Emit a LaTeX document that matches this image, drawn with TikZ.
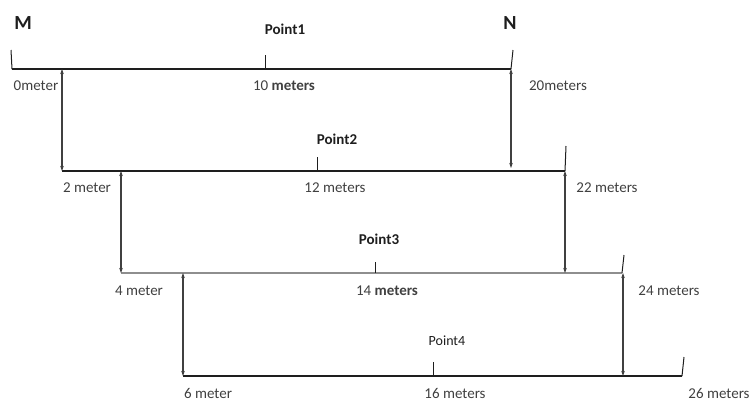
\documentclass[tikz,border=0pt]{standalone}
\usepackage{fontspec}
\setmainfont{Carlito}
\usetikzlibrary{arrows.meta}
\definecolor{lbl}{HTML}{404040}
\definecolor{ln}{HTML}{1E1E1E}
\begin{document}
\begin{tikzpicture}[x=1pt,y=-1pt,
  baseline/.style={draw=ln,line width=1.1pt},
  tickmark/.style={draw=ln,line width=1pt},
  move/.style={draw=ln!85!white,line width=1.1pt,{Stealth[length=5pt,width=3.5pt]}-{Stealth[length=5pt,width=3.5pt]}},
  lab/.style={text=lbl,font=\fontsize{15}{17}\selectfont,inner sep=0pt,anchor=center},
  big/.style={text=ln,font=\fontsize{20}{23}\selectfont\bfseries,inner sep=0pt},
  ptlab/.style={text=ln,font=\fontsize{15}{17}\selectfont\bfseries,inner sep=0pt}]
\useasboundingbox (0,0) rectangle (754,405);
% line endpoints
\coordinate (L1a) at (12,69);  \coordinate (L1b) at (511,69);
\coordinate (L2a) at (62,171); \coordinate (L2b) at (565,171);
\coordinate (L3a) at (121,273);\coordinate (L3b) at (622,273);
\coordinate (L4a) at (183,376);\coordinate (L4b) at (682,376);
% tick tops
\coordinate (T1a) at (11,50);  \coordinate (T1m) at (265,55); \coordinate (T1mb) at (265,69); \coordinate (T1b) at (513,50);
\coordinate (T2m) at (317,157); \coordinate (T2mb) at (317,171); \coordinate (T2b) at (566,146);
\coordinate (T3m) at (375,262); \coordinate (T3mb) at (375,273); \coordinate (T3b) at (624,255);
\coordinate (T4m) at (433,362); \coordinate (T4mb) at (433,376); \coordinate (T4b) at (684,357);
% vertical arrow ends
\coordinate (V1t) at (62,69);   \coordinate (V1b) at (62,171);
\coordinate (V2t) at (121,171); \coordinate (V2b) at (121,273);
\coordinate (V3t) at (183,273); \coordinate (V3b) at (183,376);
\coordinate (W1t) at (511,69);  \coordinate (W1b) at (511,168);
\coordinate (W2t) at (565,171); \coordinate (W2b) at (565,273);
\coordinate (W3t) at (623,273); \coordinate (W3b) at (623,376);
% horizontal lines
\draw[baseline] (L1a) -- (L1b);
\draw[baseline] (L2a) -- (L2b);
\draw[baseline,draw=ln!50!white] (L3a) -- (L3b);
\draw[baseline] (L4a) -- (L4b);
% ticks
\draw[tickmark] (T1a) -- (L1a);
\draw[tickmark] (T1m) -- (T1mb);
\draw[tickmark] (T1b) -- (L1b);
\draw[tickmark] (T2m) -- (T2mb);
\draw[tickmark] (T2b) -- (L2b);
\draw[tickmark] (T3m) -- (T3mb);
\draw[tickmark] (T3b) -- (L3b);
\draw[tickmark] (T4m) -- (T4mb);
\draw[tickmark] (T4b) -- (L4b);
% moves
\draw[move] (V1t) -- (V1b);
\draw[move] (V2t) -- (V2b);
\draw[move] (V3t) -- (V3b);
\draw[move] (W1t) -- (W1b);
\draw[move] (W2t) -- (W2b);
\draw[move] (W3t) -- (W3b);
% labels
\node[big] (M) at (23,23) {M};
\node[big] (N) at (510,23) {N};
\node[ptlab] (p1) at (285,29) {Point1};
\node[ptlab] (p2) at (337,139) {Point2};
\node[ptlab] (p3) at (379,239) {Point3};
\node[lab,text=ln,font=\fontsize{14}{16}\selectfont] (p4) at (447,341) {Point4};
\node[lab] (d0) at (36,86) {0meter};
\node[lab] (d10) at (284,86) {10 \textbf{meters}};
\node[lab] (d20) at (558,86) {20meters};
\node[lab] (d2) at (87,188) {2 meter};
\node[lab] (d12) at (335,188) {12 meters};
\node[lab] (d22) at (607,188) {22 meters};
\node[lab] (d4) at (139,291) {4 meter};
\node[lab] (d14) at (387,291) {14 \textbf{meters}};
\node[lab] (d24) at (669,291) {24 meters};
\node[lab] (d6) at (208,393) {6 meter};
\node[lab] (d16) at (455,393) {16 meters};
\node[lab] (d26) at (719,393) {26 meters};
\end{tikzpicture}
\end{document}
